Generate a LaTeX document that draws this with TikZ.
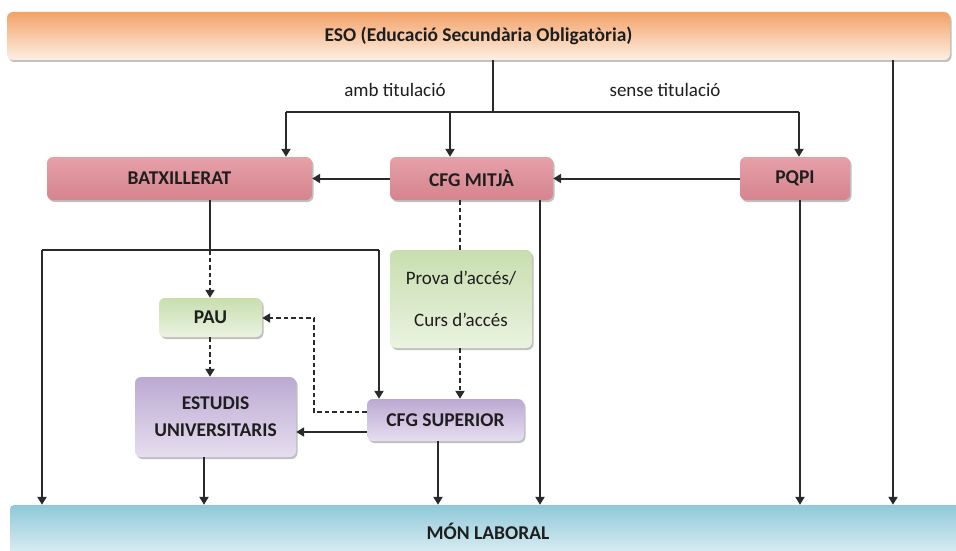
\documentclass[tikz,border=0pt]{standalone}
\usepackage{fontspec}
\setmainfont{Carlito}
\usetikzlibrary{arrows.meta,shadows}
\definecolor{ln}{HTML}{2A2A2A}
\definecolor{tx}{HTML}{1E1E1E}
\tikzset{
  box/.style={rounded corners=6pt, inner sep=0pt, align=center, text=tx,
    font=\fontsize{19.5}{23}\selectfont\bfseries,
    drop shadow={shadow xshift=1.5pt, shadow yshift=-2pt, opacity=0.35, fill=black!70}},
  pinkbox/.style={box, top color=pinkT, middle color=pinkM, bottom color=pinkB},
  greenbox/.style={box, top color=greenT, bottom color=greenB},
  purplebox/.style={box, top color=purpT, bottom color=purpB},
  conn/.style={draw=ln, line width=2pt},
  arr/.style={conn, -{Triangle[width=9pt,length=8pt]}},
  darr/.style={arr, dash pattern=on 4.5pt off 3pt},
  dln/.style={conn, dash pattern=on 4.5pt off 3pt},
  lbl/.style={text=tx, font=\fontsize{19}{23}\selectfont}
}
\definecolor{pinkT}{HTML}{E6A0A8}
\definecolor{pinkM}{HTML}{F4D4D7}
\definecolor{pinkB}{HTML}{D5848E}
\definecolor{greenT}{HTML}{C8DEAF}
\definecolor{greenB}{HTML}{EAF3E0}
\definecolor{purpT}{HTML}{BCA9D2}
\definecolor{purpB}{HTML}{E6DEEF}
\definecolor{esoT}{HTML}{F2A267}
\definecolor{esoB}{HTML}{FEEFE4}
\definecolor{monT}{HTML}{8FC9D9}
\definecolor{monB}{HTML}{E0F0F4}
\begin{document}
\begin{tikzpicture}[x=1pt,y=-1pt]
\useasboundingbox[fill=white] (0,0) rectangle (956,551);
% bars
\node[box, top color=esoT, bottom color=esoB, minimum width=943pt, minimum height=48pt] (eso) at (478.5,36) {ESO (Educació Secundària Obligatòria)};
\node[box, top color=monT, bottom color=monB, drop shadow={opacity=0}, minimum width=956pt, minimum height=52pt, rounded corners=4pt] (mon) at (488,531) {MÓN LABORAL};
% boxes
\node[pinkbox, minimum width=265pt, minimum height=43pt] (batx) at (179.5,178.5) {BATXILLERAT};
\node[pinkbox, minimum width=163pt, minimum height=43pt] (mitja) at (471.5,178.5) {CFG MITJÀ};
\node[pinkbox, minimum width=110pt, minimum height=43pt] (pqpi) at (795,178.5) {PQPI};
\node[greenbox, minimum width=103pt, minimum height=39pt] (pau) at (210.5,317.5) {PAU};
\node[greenbox, font=\fontsize{19}{23}\selectfont, minimum width=142pt, minimum height=98pt] (prova) at (461,299) {Prova d'accés/\\[19pt]Curs d'accés};
\node[purplebox, minimum width=161pt, minimum height=80pt, font=\fontsize{19.5}{27}\selectfont\bfseries] (estudis) at (215.5,417) {ESTUDIS\\UNIVERSITARIS};
\node[purplebox, minimum width=157pt, minimum height=42pt] (cfgsup) at (445.5,420) {CFG SUPERIOR};
% labels
\node[lbl] (amb) at (395,90) {amb titulació};
\node[lbl] (sense) at (665,90) {sense titulació};
% coordinates
\coordinate (j0) at (493,112);
\coordinate (jl) at (286,112);
\coordinate (jm) at (450,112);
\coordinate (jr) at (799,112);
\coordinate (xr) at (893,0);
\coordinate (b0) at (210,250);
\coordinate (bl) at (42,250);
\coordinate (br) at (379,250);
\coordinate (d1) at (314,412);
\coordinate (d2) at (314,318);
% connectors top
\draw[conn] (eso.south -| j0) -- (j0);
\draw[conn] (jl) -- (jr);
\draw[arr] (jl) -- (batx.north -| jl);
\draw[arr] (jm) -- (mitja.north -| jm);
\draw[arr] (jr) -- (pqpi.north -| jr);
\draw[arr] (eso.south -| xr) -- (mon.north -| xr);
\draw[arr] (pqpi.west) -- (mitja.east);
\draw[arr] (mitja.west) -- (batx.east);
% batxillerat branch
\draw[conn] (batx.south -| b0) -- (b0);
\draw[conn] (bl) -- (br);
\draw[arr] (bl) -- (mon.north -| bl);
\draw[arr] (br) -- (cfgsup.north -| br);
\draw[darr] (b0) -- (pau.north -| b0);
\draw[darr] (pau.south -| b0) -- (estudis.north -| b0);
% cfg mitja branch
\draw[dln] (mitja.south -| 460,0) -- (prova.north -| 460,0);
\draw[darr] (prova.south -| 460,0) -- (cfgsup.north -| 460,0);
\draw[arr] (mitja.south -| 540,0) -- (mon.north -| 540,0);
\draw[arr] (pqpi.south -| 800,0) -- (mon.north -| 800,0);
% cfg superior
\draw[darr] (cfgsup.west |- d1) -- (d1) -- (d2) -- (pau.east |- d2);
\draw[arr] (cfgsup.west |- 0,432) -- (estudis.east |- 0,432);
\draw[arr] (estudis.south -| 204,0) -- (mon.north -| 204,0);
\draw[arr] (cfgsup.south -| 438,0) -- (mon.north -| 438,0);
\end{tikzpicture}
\end{document}
